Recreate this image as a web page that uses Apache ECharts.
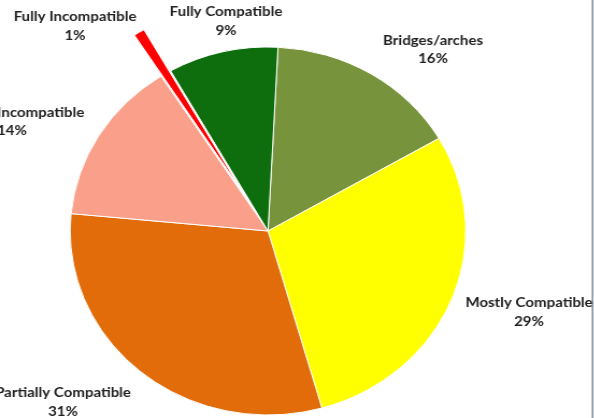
<!DOCTYPE html>
<html>
<head>
<meta charset="utf-8">
<script src="https://cdn.jsdelivr.net/npm/echarts@6/dist/echarts.min.js"></script>
<style>
  html, body { margin: 0; padding: 0; background: #fff; overflow: hidden; }
  #wrap { position: absolute; left: 0; top: 0; width: 594px; height: 418px; overflow: hidden; }
  #chart { position: absolute; left: 0; top: 0; height: 418px; transform-origin: 0 0; }
</style>
</head>
<body>
<div id="wrap"><div id="chart"></div></div>
<script>
// Data (clockwise from the top)
const categories = ["Bridges/arches", "Mostly Compatible", "Partially Compatible", "Incompatible", "Fully Incompatible", "Fully Compatible"];
const values = [15.8, 29.0, 30.9, 14.4, 0.9, 9.0];
const shownPercent = [16, 29, 31, 14, 1, 9];
const colors = ["#77933c", "#ffff00", "#e36c0a", "#faa08a", "#ff0000", "#0e6e0e"];
const explodedIndex = 4;

// Layout (page pixels); the chart is stretched horizontally like the source image
const SX = 1.075;
const START = 87.1;       // degrees, ECharts startAngle
const EXPLODE = 48;       // offset of the exploded slice
const CX = 268 / SX, CY = 231, R = 184;
const labelPos = [
  [433, 49.5, "center"],
  [529, 312, "center"],
  [63, 402, "center"],
  [-3, 121.5, "left"],
  [75, 26, "center"],
  [226, 21, "center"]
];

// offset direction of exploded slice from its mid angle
const total = values.reduce((a, b) => a + b, 0);
const before = values.slice(0, explodedIndex).reduce((a, b) => a + b, 0);
const midDeg = (90 - START) + (before + values[explodedIndex] / 2) / total * 360; // clockwise from top
const midRad = midDeg * Math.PI / 180;
const ex = EXPLODE * Math.sin(midRad), ey = -EXPLODE * Math.cos(midRad);

const el = document.getElementById('chart');
el.style.width = (594 / SX) + 'px';
el.style.transform = 'scaleX(' + SX + ')';
const chart = echarts.init(el, null, { renderer: 'canvas' });

const labelFmt = {
  show: true,
  position: 'outside',
  formatter: p => p.name + '\n' + shownPercent[p.dataIndex] + '%',
  fontFamily: 'Lato, "Open Sans", sans-serif',
  fontWeight: 'bold',
  fontSize: 14,
  lineHeight: 18.5,
  color: '#222222'
};

chart.setOption({
  animation: false,
  backgroundColor: '#ffffff',
  graphic: [{
    type: 'line',
    shape: { x1: 592.5 / SX, y1: 0, x2: 592.5 / SX, y2: 418 },
    style: { stroke: '#5d6e80', lineWidth: 1.2 }
  }],
  series: [{
    type: 'pie',
    center: [CX, CY],
    radius: R,
    startAngle: START,
    clockwise: true,
    avoidLabelOverlap: false,
    emphasis: { disabled: true },
    silent: true,
    itemStyle: { borderColor: '#ffffff', borderWidth: 1 },
    label: labelFmt,
    labelLine: { show: false },
    labelLayout: params => {
      const p = labelPos[params.dataIndex];
      return { x: p[0] / SX, y: p[1], align: p[2], verticalAlign: 'middle' };
    },
    data: categories.map((c, i) => ({
      name: c,
      value: values[i],
      itemStyle: i === explodedIndex
        ? { color: 'rgba(0,0,0,0)', borderWidth: 0 }
        : { color: colors[i] }
    }))
  }, {
    type: 'pie',
    center: [CX + ex, CY + ey],
    radius: R,
    startAngle: START,
    clockwise: true,
    emphasis: { disabled: true },
    silent: true,
    label: { show: false },
    labelLine: { show: false },
    data: categories.map((c, i) => ({
      name: c,
      value: values[i],
      itemStyle: i === explodedIndex
        ? { color: colors[i], borderColor: '#ffffff', borderWidth: 1 }
        : { color: 'rgba(0,0,0,0)', borderWidth: 0 }
    }))
  }]
});
</script>
</body>
</html>
